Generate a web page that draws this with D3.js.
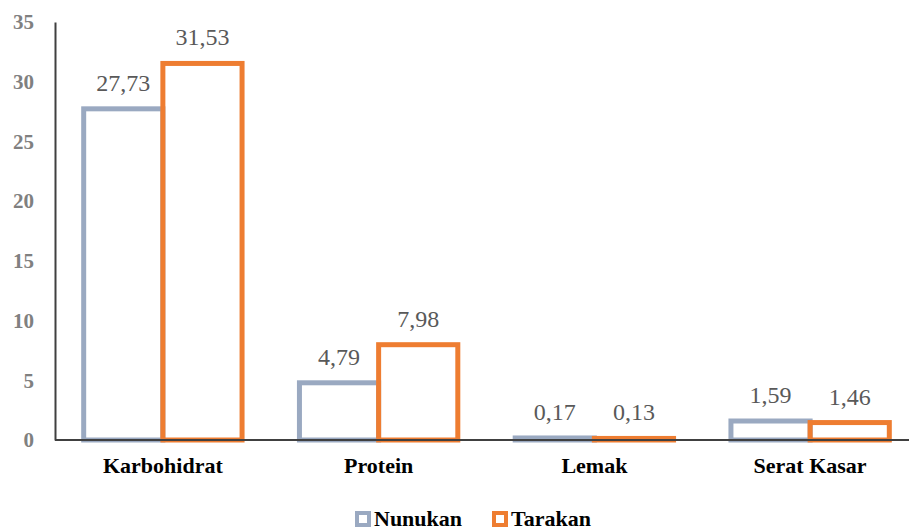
<!DOCTYPE html>
<html>
<head>
<meta charset="utf-8">
<script src="https://cdn.jsdelivr.net/npm/d3@7"></script>
<style>
  html, body { margin: 0; padding: 0; background: #fff; }
  svg { display: block; }
  svg text { font-family: "Liberation Serif", "Times New Roman", Times, "DejaVu Serif", "Noto Serif", serif; }
</style>
</head>
<body>
<svg id="chart" width="909" height="531"></svg>
<script>
// Nutrient composition by location
const categories = ["Karbohidrat", "Protein", "Lemak", "Serat Kasar"];
const seriesNames = ["Nunukan", "Tarakan"];
const nunukan = [27.73, 4.79, 0.17, 1.59];
const tarakan = [31.53, 7.98, 0.13, 1.46];
const yTicks = [0, 5, 10, 15, 20, 25, 30, 35];
const colors = ["#9AA9C1", "#EE7D31"];

const series = [nunukan, tarakan];

const svg = d3.select("#chart");
const plot = { left: 55, right: 918, top: 22, bottom: 440 };

const x = d3.scaleBand().domain(categories).range([plot.left, plot.right]).paddingInner(0.266).paddingOuter(0.133);
const xSub = d3.scaleBand().domain(seriesNames).range([0, x.bandwidth()]);
const y = d3.scaleLinear().domain([0, 35]).range([plot.bottom, plot.top]);

const fmt = v => v.toFixed(2).replace(".", ",");

// Bars (outlined, no fill)
const groups = svg.append("g").selectAll("g")
  .data(categories)
  .join("g")
  .attr("transform", d => `translate(${x(d)},0)`);

groups.selectAll("rect")
  .data((c, i) => seriesNames.map((s, j) => ({ s, j, v: series[j][i] })))
  .join("rect")
  .attr("x", d => xSub(d.s))
  .attr("width", xSub.bandwidth())
  .attr("y", d => y(d.v))
  .attr("height", d => y(0) - y(d.v))
  .attr("fill", "none")
  .attr("stroke", d => colors[d.j])
  .attr("stroke-width", 5);

// Value labels
groups.selectAll("text")
  .data((c, i) => seriesNames.map((s, j) => ({ s, j, v: series[j][i] })))
  .join("text")
  .attr("x", d => xSub(d.s) + xSub.bandwidth() / 2)
  .attr("y", d => y(d.v) - 18)
  .attr("text-anchor", "middle")
  .style("font-size", "24px")
  .attr("fill", "#595959")
  .text(d => fmt(d.v));

// Y axis
const yAxis = svg.append("g")
  .attr("transform", `translate(${plot.left},0)`)
  .call(d3.axisLeft(y).tickValues(yTicks).tickSize(0).tickPadding(21));
yAxis.attr("font-family", null);
yAxis.select(".domain").attr("stroke", "#404040").attr("stroke-width", 2);
yAxis.selectAll("text")
  .style("font-size", "21px")
  .style("font-weight", "bold")
  .attr("fill", "#808080");

// X axis
const xAxis = svg.append("g")
  .attr("transform", `translate(0,${plot.bottom})`)
  .call(d3.axisBottom(x).tickSize(0).tickPadding(17));
xAxis.attr("font-family", null);
xAxis.select(".domain").attr("d", `M${plot.left},0H909`).attr("stroke", "#404040").attr("stroke-width", 2);
xAxis.selectAll("text")
  .style("font-size", "22px")
  .style("font-weight", "bold")
  .attr("fill", "#000");

// Legend
const legendX = [355, 492];
const legend = svg.append("g").selectAll("g")
  .data(seriesNames)
  .join("g")
  .attr("transform", (d, i) => `translate(${legendX[i]},511)`);
legend.append("rect")
  .attr("x", 2).attr("y", 2)
  .attr("width", 12).attr("height", 12)
  .attr("fill", "#fff")
  .attr("stroke", (d, i) => colors[i])
  .attr("stroke-width", 4);
legend.append("text")
  .attr("x", 19)
  .attr("y", 15)
  .style("font-size", "22px")
  .style("font-weight", "bold")
  .attr("fill", "#000")
  .text(d => d);
</script>
</body>
</html>
